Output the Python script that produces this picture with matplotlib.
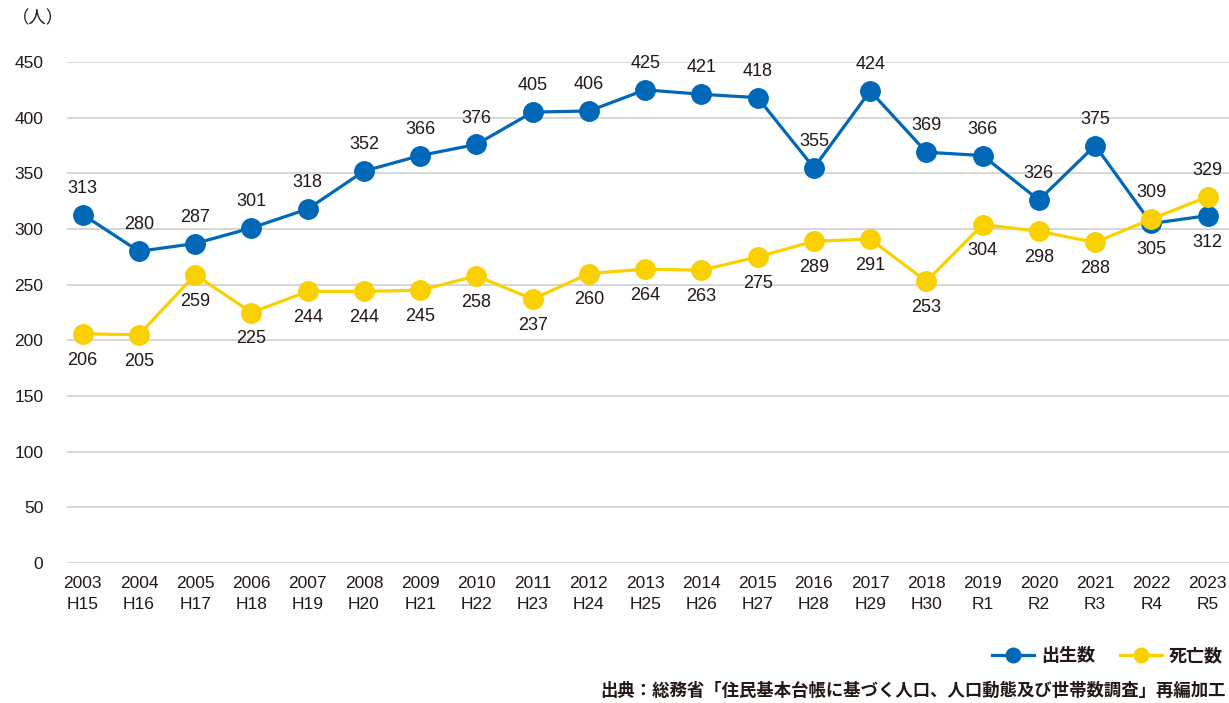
import matplotlib
matplotlib.use("Agg")
import matplotlib.pyplot as plt

plt.rcParams['font.family'] = ['Liberation Sans', 'Noto Sans CJK JP']

years = ["2003\nH15", "2004\nH16", "2005\nH17", "2006\nH18", "2007\nH19", "2008\nH20",
         "2009\nH21", "2010\nH22", "2011\nH23", "2012\nH24", "2013\nH25", "2014\nH26",
         "2015\nH27", "2016\nH28", "2017\nH29", "2018\nH30", "2019\nR1", "2020\nR2",
         "2021\nR3", "2022\nR4", "2023\nR5"]
births = [313, 280, 287, 301, 318, 352, 366, 376, 405, 406, 425, 421, 418, 355, 424,
          369, 366, 326, 375, 305, 312]
deaths = [206, 205, 259, 225, 244, 244, 245, 258, 237, 260, 264, 263, 275, 289, 291,
          253, 304, 298, 288, 309, 329]

blue = '#0068b7'
yellow = '#f9d000'
text_color = '#231815'

fig = plt.figure(figsize=(12.29, 7.03), dpi=100)
ax = fig.add_axes([0.0545, 0.199, 0.9455, 0.7128])

x = list(range(len(years)))
ax.plot(x, births, color=blue, lw=2.3, marker='o', ms=14, label='出生数', zorder=3)
ax.plot(x, deaths, color=yellow, lw=2.3, marker='o', ms=14, label='死亡数', zorder=4)

# data labels: births above, deaths below, swapped for the last two years
for i in x:
    b_up = i < 19
    ax.annotate(str(births[i]), (i, births[i]), xytext=(0, 19 if b_up else -19),
                textcoords='offset points', ha='center', va='center',
                fontsize=13, color=text_color)
    ax.annotate(str(deaths[i]), (i, deaths[i]), xytext=(0, -19 if b_up else 19),
                textcoords='offset points', ha='center', va='center',
                fontsize=13, color=text_color)

ax.set_xlim(-0.28, 20.38)
ax.set_ylim(0, 450)
ax.set_yticks(range(0, 451, 50))
ax.set_xticks(x)
ax.set_xticklabels(years, linespacing=1.5)
ax.grid(axis='y', color='#d3d3d3', lw=1.3)
ax.set_axisbelow(True)
for s in ax.spines.values():
    s.set_visible(False)
ax.tick_params(length=0, labelsize=12.5, labelcolor=text_color)
ax.tick_params(axis='y', pad=17)
ax.tick_params(axis='x', pad=9)
for lbl in ax.get_yticklabels():
    lbl.set_horizontalalignment('right')

fig.text(0.010, 0.975, '（人）', fontsize=12.5, color=text_color, ha='left', va='center')

fig.legend(loc='center right', bbox_to_anchor=(0.995, 0.066), ncol=2, frameon=False,
           handlelength=2.3, markerscale=0.75, columnspacing=1.4,
           handletextpad=0.4, borderaxespad=0, borderpad=0,
           prop={'weight': 'bold', 'size': 13})
for t in fig.legends[0].get_texts():
    t.set_color(text_color)

fig.text(0.997, 0.018, '出典：総務省「住民基本台帳に基づく人口、人口動態及び世帯数調査」再編加工',
         fontsize=12.5, fontweight='bold', color=text_color, ha='right', va='center')

fig.savefig('out.png', dpi=100)
